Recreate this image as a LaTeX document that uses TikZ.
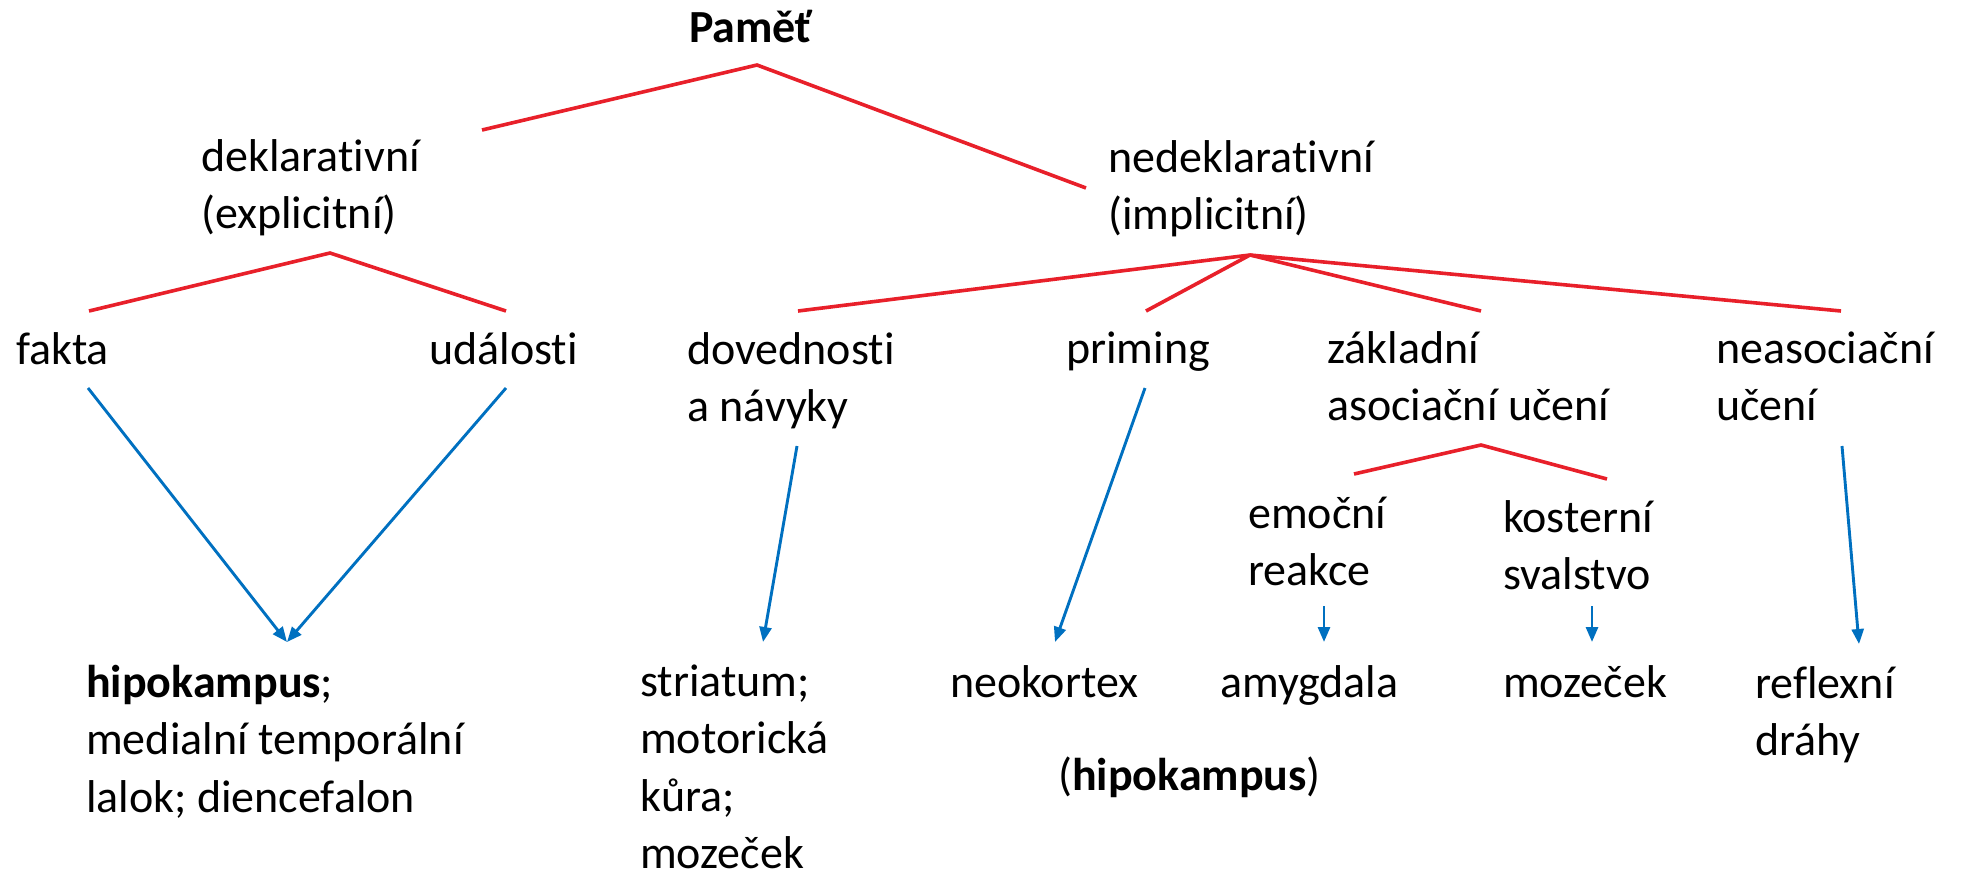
\documentclass[tikz,border=0pt]{standalone}
\usepackage{fontspec}
\setmainfont[Ligatures=NoCommon]{Carlito}
\usetikzlibrary{arrows.meta}
\definecolor{tred}{HTML}{E8202A}
\definecolor{tblue}{HTML}{0070C0}
\newcommand{\mlines}[1]{\vtop{\halign{##\hfil\cr#1\crcr}}}
\begin{document}
\begin{tikzpicture}[x=1pt,y=-1pt,
  txt/.style={anchor=base west, inner sep=0pt, font=\fontsize{46}{57.5}\selectfont},
  branch/.style={draw=tred, line width=3.6pt},
  link/.style={draw=tblue, line width=2.9pt, -{Triangle[length=15pt,width=12pt]}}]
\useasboundingbox (0,0) rectangle (1962,876);
% texts
\node[txt, anchor=base] (pam) at (751,42) {\textbf{Paměť}};
\node[txt] (dek) at (201,171) {\mlines{deklarativní\cr(explicitní)}};
\node[txt] (ned) at (1108,172) {\mlines{nedeklarativní\cr(implicitní)}};
\node[txt] (fakta) at (16,364) {fakta};
\node[txt] (udal) at (429,364) {události};
\node[txt] (dov) at (687,364) {\mlines{dovednosti\cr a návyky}};
\node[txt] (prim) at (1066,363) {priming};
\node[txt] (zakl) at (1327,363) {\mlines{základní\cr asociační učení}};
\node[txt] (neas) at (1716,363) {\mlines{neasociační\cr učení}};
\node[txt] (emo) at (1248,528) {\mlines{emoční\cr reakce}};
\node[txt] (kost) at (1503,532) {\mlines{kosterní\cr svalstvo}};
\node[txt] (hip) at (86,697) {\mlines{\textbf{hipokampus};\cr medialní temporální\cr lalok; diencefalon}};
\node[txt] (stri) at (640,696) {\mlines{striatum;\cr motorická\cr kůra;\cr mozeček}};
\node[txt] (neo) at (950,697) {neokortex};
\node[txt] (amyg) at (1220,697) {amygdala};
\node[txt] (moz) at (1503,697) {mozeček};
\node[txt] (refl) at (1755,698) {\mlines{reflexní\cr dráhy}};
\node[txt] (hip2) at (1058,790) {(\textbf{hipokampus})};
% red branch points
\coordinate (pamB) at (757,65);
\coordinate (dekT) at (482,130);
\coordinate (nedT) at (1086,188);
\coordinate (dekB) at (330,253);
\coordinate (faktaT) at (89,311);
\coordinate (udalT) at (506,311);
\coordinate (nedB) at (1250,255);
\coordinate (dovT) at (798,311);
\coordinate (primT) at (1146,311);
\coordinate (zaklT) at (1481,311);
\coordinate (neasT) at (1841,311);
\coordinate (zaklB) at (1481,445);
\coordinate (emoT) at (1354,474);
\coordinate (kostT) at (1607,479);
% blue arrow ends
\coordinate (faktaB) at (88,388);
\coordinate (udalB) at (506,388);
\coordinate (hipT) at (287,642);
\coordinate (dovB) at (797,446);
\coordinate (striT) at (763,642);
\coordinate (primB) at (1145,388);
\coordinate (neoT) at (1055,642);
\coordinate (emoB) at (1324,606);
\coordinate (amygT) at (1324,642);
\coordinate (kostB) at (1592,606);
\coordinate (mozT) at (1592,642);
\coordinate (neasB) at (1842,446);
\coordinate (reflT) at (1859,644);
% red lines
\draw[branch] (dekT) -- (pamB) -- (nedT);
\draw[branch] (faktaT) -- (dekB) -- (udalT);
\draw[branch] (nedB) -- (dovT);
\draw[branch] (nedB) -- (primT);
\draw[branch] (nedB) -- (zaklT);
\draw[branch] (nedB) -- (neasT);
\draw[branch] (emoT) -- (zaklB) -- (kostT);
% blue arrows
\draw[link] (faktaB) -- (hipT);
\draw[link] (udalB) -- (hipT);
\draw[link] (dovB) -- (striT);
\draw[link] (primB) -- (neoT);
\draw[link] (emoB) -- (amygT);
\draw[link] (kostB) -- (mozT);
\draw[link] (neasB) -- (reflT);
\end{tikzpicture}
\end{document}
